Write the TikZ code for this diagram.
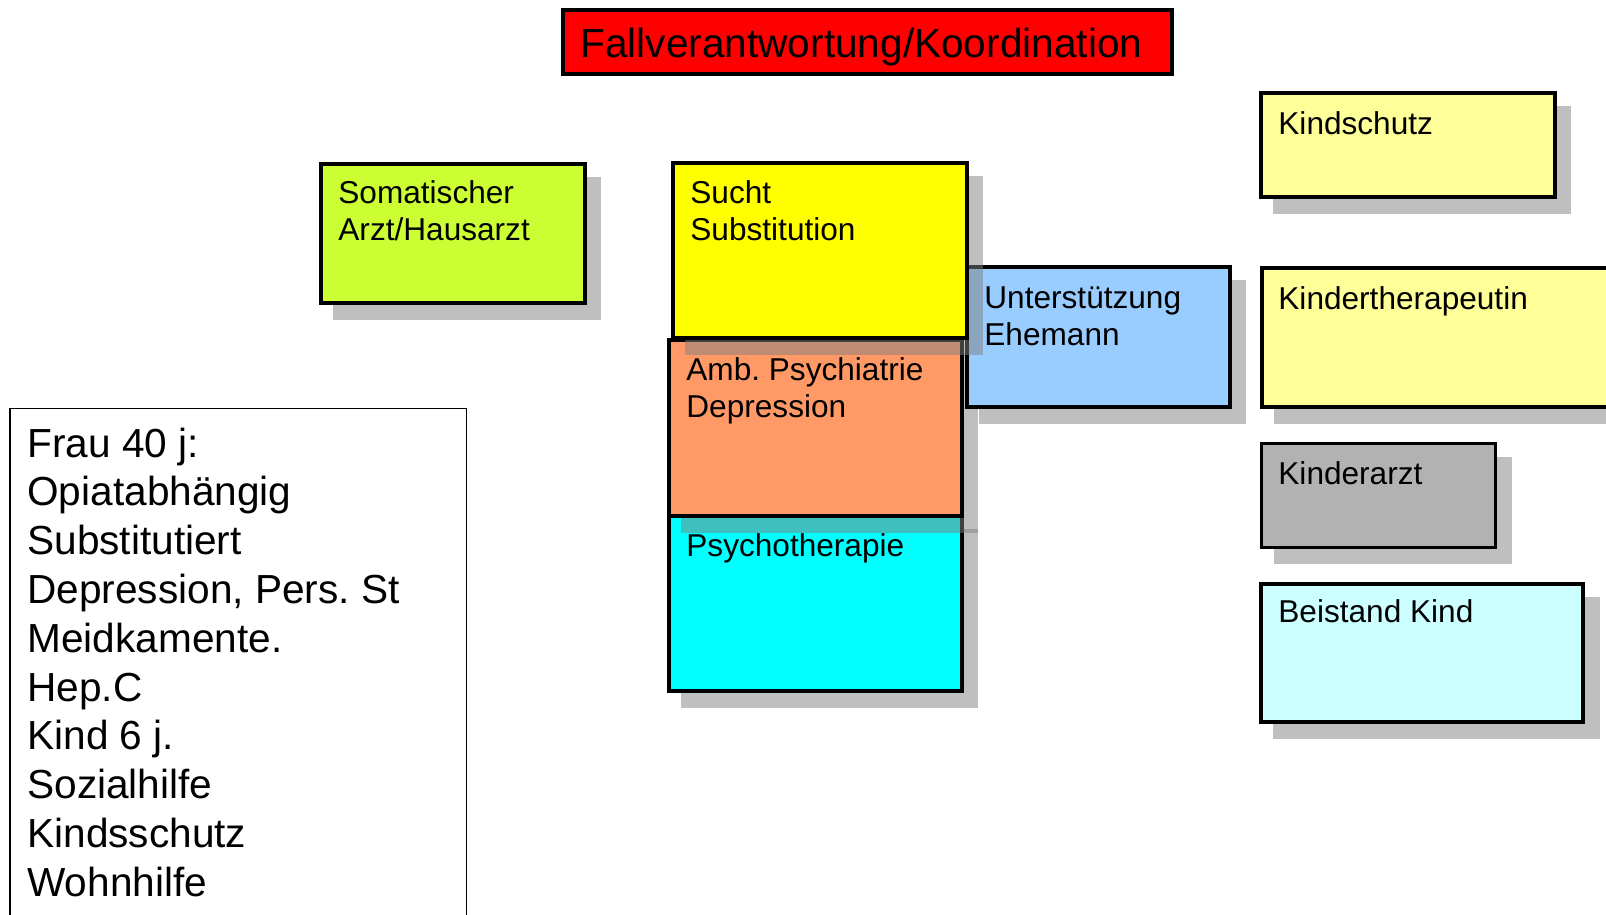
\documentclass[tikz,border=0pt]{standalone}
\usepackage{fontspec}
\setmainfont{Liberation Sans}
\usetikzlibrary{fit}
\frenchspacing
\definecolor{cRed}{HTML}{FF0000}
\definecolor{cGreen}{HTML}{CCFF33}
\definecolor{cYellow}{HTML}{FFFF00}
\definecolor{cOrange}{HTML}{FF9966}
\definecolor{cCyan}{HTML}{00FFFF}
\definecolor{cBlue}{HTML}{99CCFF}
\definecolor{cLight}{HTML}{FFFF99}
\definecolor{cGray}{HTML}{B2B2B2}
\definecolor{cPale}{HTML}{CCFFFF}
\begin{document}
\begin{tikzpicture}[x=0.5pt,y=-0.5pt,
  cbox/.style={draw=black, line width=2.1pt, inner sep=0pt, outer sep=0pt},
  shadowbox/.style={fill=black!50, fill opacity=0.5},
  lbl/.style={anchor=base west, inner sep=0pt, font=\fontsize{15.8}{18.6}\selectfont},
  big/.style={anchor=base west, inner sep=0pt, font=\fontsize{20.3}{24.4}\selectfont}]
\useasboundingbox (0,0) rectangle (1606,915);
\clip (0,0) rectangle (1606,915);

% title
\node[cbox, line width=1.8pt, fill=cRed, fit={(563,10) (1172,74)}] (title) {};
\node[big] (titlet) at (580,57.5) {Fallverantwortung/Koordination};

% somatic doctor
\fill[shadowbox] (333,177) rectangle (601,320);
\node[cbox, fill=cGreen, fit={(321,164) (585,303)}] (soma) {};
\node[lbl] (somat) at (338,203) {\vtop{\hbox{Somatischer}\hbox{Arzt/Hausarzt}}};

% psychotherapy
\fill[shadowbox] (681,529) rectangle (978,708);
\node[cbox, fill=cCyan, fit={(669,516) (962,691)}] (psy) {};
\node[lbl] (psyt) at (686,556) {Psychotherapie};

% ambulant psychiatry
\fill[shadowbox] (681,353) rectangle (978,533);
\node[cbox, fill=cOrange, fit={(669,340) (962,516)}] (amb) {};
\node[lbl] (ambt) at (686,380) {\vtop{\hbox{Amb. Psychiatrie}\hbox{Depression}}};

% husband support
\fill[shadowbox] (979,280) rectangle (1246,424);
\node[cbox, fill=cBlue, fit={(967,267) (1230,407)}] (mann) {};
\node[lbl] (mannt) at (984,308) {\vtop{\hbox{Unterstützung}\hbox{Ehemann}}};

% addiction
\fill[shadowbox] (685,176) rectangle (983,355);
\node[cbox, fill=cYellow, fit={(673,163) (967,338)}] (sucht) {};
\node[lbl] (suchtt) at (690,203) {\vtop{\hbox{Sucht}\hbox{Substitution}}};

% right column
\fill[shadowbox] (1273,106) rectangle (1571,214);
\node[cbox, fill=cLight, fit={(1261,93) (1555,197)}] (kschutz) {};
\node[lbl] (kschutzt) at (1278,134) {Kindschutz};

\fill[shadowbox] (1274,281) rectangle (1630,424);
\node[cbox, fill=cLight, fit={(1262,268) (1630,407)}] (ktherapie) {};
\node[lbl] (ktherapiet) at (1278,309) {Kindertherapeutin};

\fill[shadowbox] (1274,457) rectangle (1512,564);
\node[cbox, line width=1.6pt, fill=cGray, fit={(1261.6,443.6) (1495.4,547.4)}] (karzt) {};
\node[lbl] (karztt) at (1278,484) {Kinderarzt};

\fill[shadowbox] (1273,597) rectangle (1600,739);
\node[cbox, fill=cPale, fit={(1261,584) (1583,722)}] (beistand) {};
\node[lbl] (beistandt) at (1278,622.5) {Beistand Kind};

% case box
\node[draw=black, line width=0.9pt, inner sep=0pt, fit={(10,408.5) (466.5,960)}] (case) {};
\node[big] (caset) at (27,457) {\vtop{%
  \hbox{Frau 40 j:}\hbox{Opiatabhängig}\hbox{Substitutiert}%
  \hbox{Depression, Pers. St}\hbox{Meidkamente.}\hbox{Hep.C}%
  \hbox{Kind 6 j.}\hbox{Sozialhilfe}\hbox{Kindsschutz}\hbox{Wohnhilfe}}};
\end{tikzpicture}
\end{document}
